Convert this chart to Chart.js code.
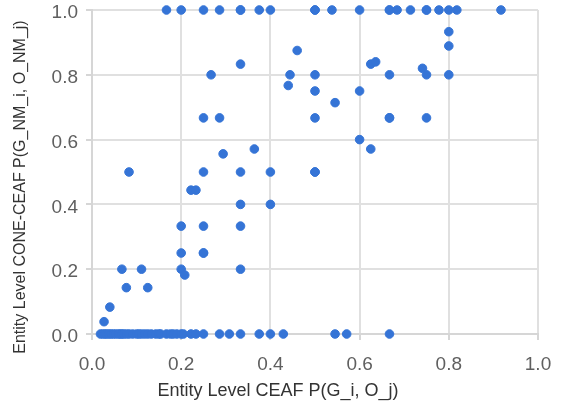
<!DOCTYPE html>
<html>
<head>
<meta charset="utf-8">
<script src="https://cdn.jsdelivr.net/npm/chart.js@4"></script>
<style>
    html, body { margin: 0; padding: 0; background: #fff; }
    #wrap { width: 562px; height: 405px; position: relative; }
</style>
</head>
<body>
<div id="wrap"><canvas id="graficoDispersao"></canvas></div>
<script>
// ==========================
// DADOS
// ==========================
const tickLabels = ["0.0", "0.2", "0.4", "0.6", "0.8", "1.0"];

// points where CONE-CEAF = 1.0
const topoX = [0.167, 0.2, 0.25, 0.286, 0.333, 0.333, 0.375, 0.4, 0.5, 0.5, 0.538,
    0.6, 0.667, 0.667, 0.684, 0.714, 0.75, 0.75, 0.778, 0.8, 0.818, 0.917];

// points where CONE-CEAF = 0.0
const baseX = [0.019, 0.024, 0.029, 0.033, 0.038, 0.043, 0.048, 0.053, 0.059, 0.063,
    0.067, 0.071, 0.077, 0.083, 0.091, 0.1, 0.105, 0.111, 0.118, 0.125, 0.133,
    0.143, 0.15, 0.154, 0.167, 0.176, 0.182, 0.19, 0.2, 0.205,
    0.222, 0.233, 0.25, 0.286, 0.308, 0.333, 0.375, 0.4, 0.429, 0.545, 0.571, 0.667];

// everything in between
const meioX = [0.46, 0.333, 0.267, 0.444, 0.5, 0.44, 0.5, 0.25, 0.286, 0.5, 0.364, 0.294,
    0.083, 0.25, 0.333, 0.4, 0.5, 0.5,
    0.8, 0.8, 0.625, 0.636, 0.741, 0.667, 0.75, 0.8, 0.6, 0.545, 0.667, 0.667, 0.75, 0.6, 0.625,
    0.222, 0.233, 0.333, 0.4, 0.2, 0.25, 0.333, 0.2, 0.25, 0.25, 0.067, 0.111, 0.2, 0.333,
    0.208, 0.077, 0.125, 0.04, 0.027];
const meioY = [0.875, 0.833, 0.8, 0.8, 0.8, 0.767, 0.75, 0.667, 0.667, 0.667, 0.571, 0.556,
    0.5, 0.5, 0.5, 0.5, 0.5, 0.5,
    0.933, 0.889, 0.833, 0.84, 0.82, 0.8, 0.8, 0.8, 0.75, 0.714, 0.667, 0.667, 0.667, 0.6, 0.571,
    0.444, 0.444, 0.4, 0.4, 0.333, 0.333, 0.333, 0.25, 0.25, 0.25, 0.2, 0.2, 0.2, 0.2,
    0.182, 0.143, 0.143, 0.083, 0.038];

const pontos = [];
topoX.forEach(x => pontos.push({ x: x, y: 1 }));
meioX.forEach((x, i) => pontos.push({ x: x, y: meioY[i] }));
baseX.forEach(x => pontos.push({ x: x, y: 0 }));

// ==========================
// TITULOS DOS EIXOS (desenho manual)
// ==========================
const titulosEixos = {
    id: "titulosEixos",
    afterDraw(chart) {
        const c = chart.ctx;
        c.save();
        c.fillStyle = "#333";
        c.textAlign = "center";
        c.textBaseline = "middle";
        c.font = "18px 'Liberation Sans', Arial, sans-serif";
        c.fillText("Entity Level CEAF P(G_i, O_j)", 278, 391);

        c.translate(21, 187);
        c.rotate(-Math.PI / 2);
        c.font = "16px 'Liberation Sans', Arial, sans-serif";
        c.fillText("Entity Level CONE-CEAF P(G_NM_i, O_NM_j)", 0, 0);
        c.restore();
    }
};

const eixoComum = {
    type: "linear",
    min: 0,
    max: 1,
    grid: { color: "#e0e0e0", lineWidth: 2, tickLength: 6, tickColor: "#d6d6d6" },
    border: { color: "#d6d6d6", width: 2 }
};

new Chart(document.getElementById("graficoDispersao"), {
    type: "scatter",
    data: {
        datasets: [{
            data: pontos,
            backgroundColor: "#3574d6",
            borderColor: "#3574d6",
            pointRadius: 4.3,
            pointHoverRadius: 4.3,
            clip: false
        }]
    },
    options: {
        responsive: true,
        maintainAspectRatio: false,
        animation: false,
        layout: { padding: { top: 10, right: 24, left: 0, bottom: 0 } },
        plugins: { legend: { display: false }, tooltip: { enabled: false } },
        scales: {
            x: {
                ...eixoComum,
                ticks: {
                    stepSize: 0.2,
                    padding: 13,
                    color: "#5f5f5f",
                    font: { size: 19, family: "'Liberation Sans', Arial, sans-serif" },
                    callback: (v) => tickLabels[Math.round(v * 5)]
                },
                afterFit: (s) => { s.height = 71; s.paddingLeft = 0; s.paddingRight = 0; }
            },
            y: {
                ...eixoComum,
                ticks: {
                    stepSize: 0.2,
                    padding: 8,
                    labelOffset: 3,
                    color: "#5f5f5f",
                    font: { size: 19, family: "'Liberation Sans', Arial, sans-serif" },
                    callback: (v) => tickLabels[Math.round(v * 5)]
                },
                afterFit: (s) => { s.width = 92; s.paddingTop = 0; s.paddingBottom = 0; }
            }
        }
    },
    plugins: [titulosEixos]
});
</script>
</body>
</html>
